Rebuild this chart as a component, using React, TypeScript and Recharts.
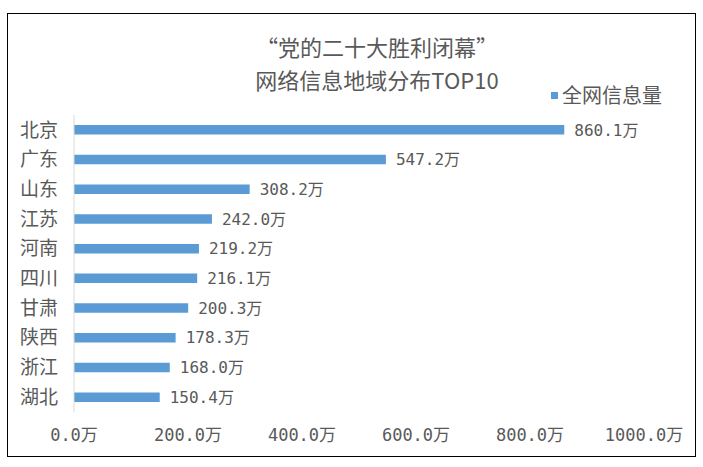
import React from 'react';
import { BarChart, Bar, XAxis, YAxis, LabelList } from 'recharts';

const categories = ['北京', '广东', '山东', '江苏', '河南', '四川', '甘肃', '陕西', '浙江', '湖北'];
const values = [860.1, 547.2, 308.2, 242.0, 219.2, 216.1, 200.3, 178.3, 168.0, 150.4];
const xTicks = [0, 200, 400, 600, 800, 1000];
const titleLines = ['“党的二十大胜利闭幕”', '网络信息地域分布TOP10'];
const seriesName = '全网信息量';

const data = categories.map((name, i) => ({ name, value: values[i] }));

const CJK = '"Noto Sans CJK SC", "Noto Sans", sans-serif';
const NUM = '"DejaVu Sans Mono", "Noto Sans CJK SC", monospace';
const TEXT = '#595959';
const BAR = '#5B9BD5';

export default function App() {
  return (
    <div style={{ position: 'absolute', left: 0, top: 0, width: 703, height: 467, background: '#fff' }}>
      <div
        style={{
          position: 'absolute',
          left: 7,
          top: 13,
          width: 687,
          height: 442,
          border: '1.5px solid #000',
        }}
      />
      <div
        style={{
          position: 'absolute',
          left: 0,
          width: 754,
          top: 30,
          textAlign: 'center',
          fontFamily: CJK,
          fontSize: 22,
          lineHeight: '33px',
          color: TEXT,
        }}
      >
        {titleLines.map((t) => (
          <div key={t}>{t}</div>
        ))}
      </div>
      <div
        style={{
          position: 'absolute',
          left: 551,
          top: 81,
          display: 'flex',
          alignItems: 'center',
          fontFamily: CJK,
          fontSize: 20,
          color: TEXT,
          lineHeight: '28px',
        }}
      >
        <span style={{ display: 'inline-block', width: 7, height: 7, background: BAR, marginRight: 4 }} />
        <span>{seriesName}</span>
      </div>
      <div style={{ position: 'absolute', left: 0, top: 0 }}>
        <BarChart
          width={703}
          height={467}
          layout="vertical"
          data={data}
          margin={{ top: 115, right: 59, bottom: 25, left: 0 }}
          barCategoryGap="66%"
        >
          <XAxis
            type="number"
            domain={[0, 1000]}
            ticks={xTicks}
            axisLine={false}
            tickLine={false}
            tickSize={0}
            tickMargin={17}
            height={30}
            interval={0}
            tickFormatter={(v: number) => v.toFixed(1) + '万'}
            tick={{ fill: TEXT, fontSize: 17, fontFamily: NUM }}
          />
          <YAxis
            type="category"
            dataKey="name"
            width={74}
            axisLine={{ stroke: '#D9D9D9' }}
            tickLine={false}
            tickSize={0}
            tickMargin={16}
            interval={0}
            tick={{ fill: TEXT, fontSize: 19, fontFamily: CJK }}
          />
          <Bar dataKey="value" fill={BAR} isAnimationActive={false}>
            <LabelList
              dataKey="value"
              position="right"
              offset={10}
              formatter={(v: number) => v.toFixed(1) + '万'}
              style={{ fill: TEXT, fontSize: 16, fontFamily: NUM }}
            />
          </Bar>
        </BarChart>
      </div>
    </div>
  );
}
